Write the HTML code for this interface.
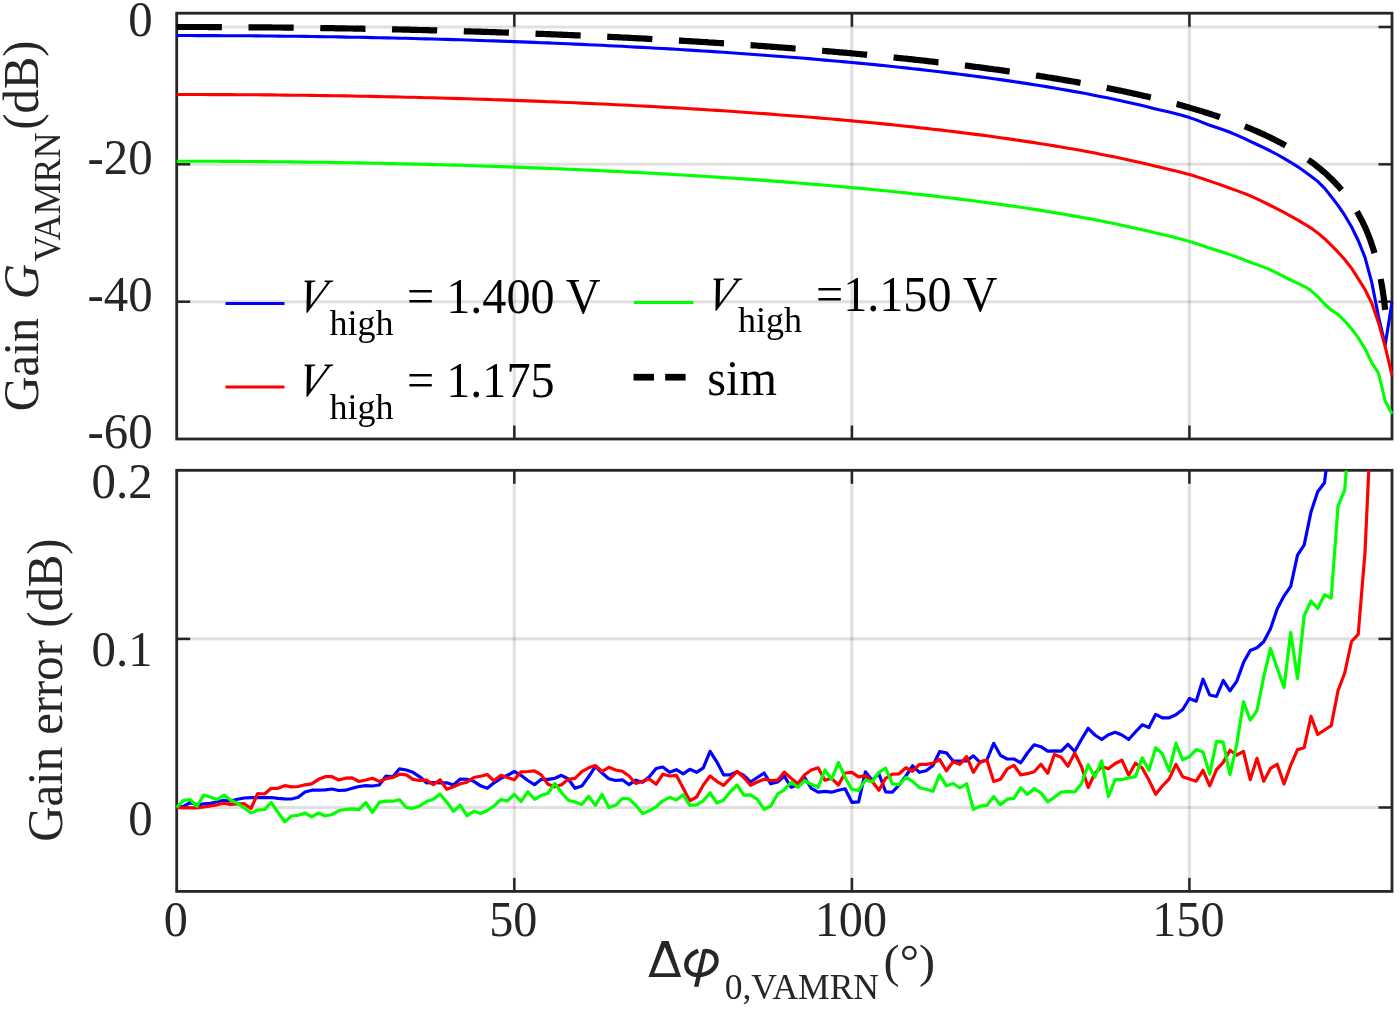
<!DOCTYPE html>
<html lang="en">
<head>
<meta charset="utf-8">
<title>VAMRN gain and gain error versus phase difference</title>
<style>
html,body{margin:0;padding:0;background:#fff;}
body{width:1400px;height:1009px;overflow:hidden;font-family:"Liberation Serif",serif;}
svg{display:block;will-change:transform;}
text{font-family:"Liberation Serif",serif;font-size:48.8px;}
.tl text{fill:#262626;}
.lg text{fill:#000;}
.sub{font-size:36.0px;}
.it{font-style:italic;}
.sans{font-family:"Liberation Sans",sans-serif;font-size:48.8px;}
.si{font-family:"Liberation Sans",sans-serif;font-style:italic;}
.g{stroke:#262626;stroke-opacity:0.145;stroke-width:3.1;}
.bx{fill:none;stroke:#262626;stroke-width:2.8;}
.t{stroke:#262626;stroke-width:2.5;}
.c{stroke-width:3.1;}
.c2{stroke-width:3.2;}
</style>
</head>
<body>
<svg width="1400" height="1009" viewBox="0 0 1400 1009">
<defs><clipPath id="ct"><rect x="175.2" y="13.2" width="1218.3" height="425.8"/></clipPath><clipPath id="cb"><rect x="175.2" y="470.5" width="1218.3" height="420.9"/></clipPath></defs>
<rect width="1400" height="1009" fill="#fff"/>
<g id="top-plot">
<line x1="514.3" y1="13.2" x2="514.3" y2="439" class="g"/>
<line x1="851.9" y1="13.2" x2="851.9" y2="439" class="g"/>
<line x1="1189.4" y1="13.2" x2="1189.4" y2="439" class="g"/>
<line x1="176.7" y1="27" x2="1392" y2="27" class="g"/>
<line x1="176.7" y1="164.3" x2="1392" y2="164.3" class="g"/>
<line x1="176.7" y1="301.7" x2="1392" y2="301.7" class="g"/>
<rect x="176.7" y="13.2" width="1215.3" height="425.8" class="bx"/>
<line x1="514.3" y1="13.2" x2="514.3" y2="26.7" class="t"/>
<line x1="514.3" y1="439" x2="514.3" y2="425.5" class="t"/>
<line x1="851.9" y1="13.2" x2="851.9" y2="26.7" class="t"/>
<line x1="851.9" y1="439" x2="851.9" y2="425.5" class="t"/>
<line x1="1189.4" y1="13.2" x2="1189.4" y2="26.7" class="t"/>
<line x1="1189.4" y1="439" x2="1189.4" y2="425.5" class="t"/>
<line x1="176.7" y1="27" x2="190.2" y2="27" class="t"/>
<line x1="1392" y1="27" x2="1378.5" y2="27" class="t"/>
<line x1="176.7" y1="164.3" x2="190.2" y2="164.3" class="t"/>
<line x1="1392" y1="164.3" x2="1378.5" y2="164.3" class="t"/>
<line x1="176.7" y1="301.7" x2="190.2" y2="301.7" class="t"/>
<line x1="1392" y1="301.7" x2="1378.5" y2="301.7" class="t"/>
<g clip-path="url(#ct)" fill="none" stroke-linejoin="round">
<polyline class="c" stroke="#0000ff" points="176.7,35.5 183.5,35.5 190.2,35.5 197,35.6 203.7,35.6 210.5,35.6 217.2,35.6 224,35.7 230.7,35.7 237.5,35.7 244.2,35.8 251,35.8 257.7,35.9 264.5,36 271.2,36 278,36.1 284.7,36.2 291.5,36.3 298.2,36.3 305,36.4 311.7,36.5 318.5,36.6 325.2,36.7 332,36.8 338.7,36.9 345.5,37.1 352.2,37.2 359,37.3 365.7,37.4 372.5,37.6 379.2,37.7 386,37.9 392.8,38 399.5,38.2 406.3,38.3 413,38.5 419.8,38.7 426.5,38.9 433.3,39 440,39.2 446.8,39.4 453.5,39.6 460.3,39.8 467,40 473.8,40.2 480.5,40.5 487.3,40.7 494,40.9 500.8,41.1 507.5,41.4 514.3,41.6 521,41.9 527.8,42.1 534.5,42.4 541.3,42.7 548,42.9 554.8,43.2 561.5,43.5 568.3,43.8 575,44.1 581.8,44.4 588.6,44.7 595.3,45 602.1,45.3 608.8,45.7 615.6,46 622.3,46.3 629.1,46.7 635.8,47.1 642.6,47.4 649.3,47.8 656.1,48.2 662.8,48.5 669.6,48.9 676.3,49.3 683.1,49.7 689.8,50.1 696.6,50.6 703.3,51 710.1,51.4 716.8,51.9 723.6,52.3 730.3,52.8 737.1,53.2 743.8,53.7 750.6,54.2 757.3,54.7 764.1,55.2 770.8,55.7 777.6,56.2 784.3,56.7 791.1,57.2 797.9,57.8 804.6,58.3 811.4,58.9 818.1,59.5 824.9,60.1 831.6,60.7 838.4,61.3 845.1,61.9 851.9,62.5 858.6,63.1 865.4,63.8 872.1,64.4 878.9,65.1 885.6,65.8 892.4,66.5 899.1,67.2 905.9,67.9 912.6,68.7 919.4,69.4 926.1,70.2 932.9,71 939.6,71.8 946.4,72.6 953.1,73.4 959.9,74.2 966.6,75.1 973.4,76 980.1,76.9 986.9,77.8 993.7,78.7 1000.4,79.6 1007.2,80.6 1013.9,81.6 1020.7,82.6 1027.4,83.6 1034.2,84.7 1040.9,85.8 1047.7,86.9 1054.4,88 1061.2,89.2 1067.9,90.4 1074.7,91.6 1081.4,92.8 1088.2,94.1 1094.9,95.4 1101.7,96.7 1108.4,98.1 1115.2,99.5 1121.9,101 1128.7,102.5 1135.4,104 1142.2,105.6 1148.9,107.2 1155.7,108.9 1162.4,110.5 1169.2,112.1 1175.9,113.8 1182.7,115.6 1189.4,117.6 1196.2,119.9 1203,122.6 1209.7,125.2 1216.5,127.5 1223.2,129.8 1230,132.3 1236.7,135.1 1243.5,138.2 1250.2,141.4 1257,144.5 1263.7,147.7 1270.5,151 1277.2,154.5 1284,158.3 1290.7,162.3 1297.5,166.6 1304.2,171.3 1311,176.2 1317.7,181.4 1324.5,188.1 1331.2,196.5 1338,205.4 1344.7,215.2 1351.5,226.7 1358.2,240.5 1365,257.4 1371.7,282.1 1378.5,316.6 1385.2,345 1392,302"/>
<polyline class="c" stroke="#ff0000" points="176.7,94.5 183.5,94.5 190.2,94.5 197,94.5 203.7,94.5 210.5,94.6 217.2,94.6 224,94.6 230.7,94.6 237.5,94.7 244.2,94.7 251,94.8 257.7,94.8 264.5,94.9 271.2,94.9 278,95 284.7,95.1 291.5,95.2 298.2,95.2 305,95.3 311.7,95.4 318.5,95.5 325.2,95.6 332,95.7 338.7,95.8 345.5,95.9 352.2,96 359,96.2 365.7,96.3 372.5,96.4 379.2,96.6 386,96.7 392.8,96.9 399.5,97 406.3,97.2 413,97.3 419.8,97.5 426.5,97.7 433.3,97.8 440,98 446.8,98.2 453.5,98.4 460.3,98.6 467,98.8 473.8,99 480.5,99.2 487.3,99.4 494,99.7 500.8,99.9 507.5,100.1 514.3,100.4 521,100.6 527.8,100.9 534.5,101.1 541.3,101.4 548,101.7 554.8,101.9 561.5,102.2 568.3,102.5 575,102.8 581.8,103.1 588.6,103.4 595.3,103.7 602.1,104 608.8,104.3 615.6,104.7 622.3,105 629.1,105.3 635.8,105.7 642.6,106 649.3,106.4 656.1,106.8 662.8,107.1 669.6,107.5 676.3,107.9 683.1,108.3 689.8,108.7 696.6,109.1 703.3,109.5 710.1,110 716.8,110.4 723.6,110.8 730.3,111.3 737.1,111.7 743.8,112.2 750.6,112.7 757.3,113.2 764.1,113.6 770.8,114.1 777.6,114.7 784.3,115.2 791.1,115.7 797.9,116.2 804.6,116.8 811.4,117.3 818.1,117.9 824.9,118.5 831.6,119 838.4,119.6 845.1,120.2 851.9,120.9 858.6,121.5 865.4,122.1 872.1,122.8 878.9,123.4 885.6,124.1 892.4,124.8 899.1,125.5 905.9,126.2 912.6,126.9 919.4,127.7 926.1,128.4 932.9,129.2 939.6,129.9 946.4,130.7 953.1,131.5 959.9,132.4 966.6,133.2 973.4,134.1 980.1,134.9 986.9,135.8 993.7,136.8 1000.4,137.7 1007.2,138.6 1013.9,139.6 1020.7,140.6 1027.4,141.6 1034.2,142.6 1040.9,143.7 1047.7,144.8 1054.4,145.9 1061.2,147 1067.9,148.2 1074.7,149.3 1081.4,150.5 1088.2,151.8 1094.9,153.1 1101.7,154.4 1108.4,155.7 1115.2,157.1 1121.9,158.5 1128.7,159.9 1135.4,161.5 1142.2,163 1148.9,164.6 1155.7,166.2 1162.4,167.8 1169.2,169.4 1175.9,171 1182.7,172.8 1189.4,174.6 1196.2,176.6 1203,178.8 1209.7,181.1 1216.5,183.4 1223.2,185.8 1230,188.2 1236.7,190.6 1243.5,193.1 1250.2,195.8 1257,198.9 1263.7,202.1 1270.5,205.5 1277.2,208.9 1284,212.4 1290.7,216.1 1297.5,219.8 1304.2,223.8 1311,228.1 1317.7,232.9 1324.5,238.7 1331.2,245.2 1338,252.1 1344.7,259.5 1351.5,268.2 1358.2,278.6 1365,289.5 1371.7,303 1378.5,322.7 1385.2,346.6 1392,375.5"/>
<polyline class="c" stroke="#00ff00" points="176.7,161.2 183.5,161.2 190.2,161.3 197,161.3 203.7,161.3 210.5,161.3 217.2,161.3 224,161.4 230.7,161.4 237.5,161.4 244.2,161.5 251,161.5 257.7,161.6 264.5,161.6 271.2,161.7 278,161.8 284.7,161.8 291.5,161.9 298.2,162 305,162.1 311.7,162.2 318.5,162.2 325.2,162.3 332,162.5 338.7,162.6 345.5,162.7 352.2,162.8 359,162.9 365.7,163 372.5,163.2 379.2,163.3 386,163.5 392.8,163.6 399.5,163.8 406.3,163.9 413,164.1 419.8,164.2 426.5,164.4 433.3,164.6 440,164.8 446.8,165 453.5,165.1 460.3,165.3 467,165.5 473.8,165.8 480.5,166 487.3,166.2 494,166.4 500.8,166.6 507.5,166.9 514.3,167.1 521,167.4 527.8,167.6 534.5,167.9 541.3,168.1 548,168.4 554.8,168.7 561.5,168.9 568.3,169.2 575,169.5 581.8,169.8 588.6,170.1 595.3,170.4 602.1,170.8 608.8,171.1 615.6,171.4 622.3,171.7 629.1,172.1 635.8,172.4 642.6,172.8 649.3,173.1 656.1,173.5 662.8,173.9 669.6,174.3 676.3,174.7 683.1,175 689.8,175.5 696.6,175.9 703.3,176.3 710.1,176.7 716.8,177.1 723.6,177.6 730.3,178 737.1,178.5 743.8,178.9 750.6,179.4 757.3,179.9 764.1,180.4 770.8,180.9 777.6,181.4 784.3,181.9 791.1,182.4 797.9,183 804.6,183.5 811.4,184.1 818.1,184.6 824.9,185.2 831.6,185.8 838.4,186.4 845.1,187 851.9,187.6 858.6,188.2 865.4,188.9 872.1,189.5 878.9,190.2 885.6,190.8 892.4,191.5 899.1,192.2 905.9,192.9 912.6,193.7 919.4,194.4 926.1,195.1 932.9,195.9 939.6,196.7 946.4,197.5 953.1,198.3 959.9,199.1 966.6,200 973.4,200.8 980.1,201.7 986.9,202.6 993.7,203.5 1000.4,204.4 1007.2,205.4 1013.9,206.3 1020.7,207.3 1027.4,208.3 1034.2,209.4 1040.9,210.4 1047.7,211.5 1054.4,212.6 1061.2,213.7 1067.9,214.9 1074.7,216.1 1081.4,217.3 1088.2,218.5 1094.9,219.8 1101.7,221.1 1108.4,222.4 1115.2,223.8 1121.9,225.2 1128.7,226.7 1135.4,228.2 1142.2,229.7 1148.9,231.3 1155.7,232.9 1162.4,234.5 1169.2,236.1 1175.9,237.8 1182.7,239.5 1189.4,241.4 1196.2,243.5 1203,245.8 1209.7,248.1 1216.5,250.2 1223.2,252.3 1230,254.6 1236.7,257 1243.5,259.6 1250.2,262.2 1257,264.6 1263.7,267.1 1270.5,269.8 1277.2,273.1 1284,276.6 1290.7,280 1297.5,283.1 1304.2,286.3 1311,290.6 1317.7,296.6 1324.5,304 1331.2,310 1338,314.4 1344.7,320.9 1351.5,328.7 1358.2,337.6 1365,348.7 1371.7,362.7 1378.5,373.2 1385.2,401 1392,414"/>
<polyline stroke="#000" stroke-width="6.2" stroke-dasharray="45.2 26.6" points="176.7,27 178.4,27 180.1,27 181.8,27 183.5,27 185.1,27 186.8,27 188.5,27 190.2,27 191.9,27 193.6,27 195.3,27 197,27 198.6,27 200.3,27 202,27 203.7,27 205.4,27 207.1,27 208.8,27.1 210.5,27.1 212.1,27.1 213.8,27.1 215.5,27.1 217.2,27.1 218.9,27.1 220.6,27.1 222.3,27.1 224,27.1 225.6,27.1 227.3,27.1 229,27.1 230.7,27.1 232.4,27.2 234.1,27.2 235.8,27.2 237.5,27.2 239.2,27.2 240.8,27.2 242.5,27.2 244.2,27.2 245.9,27.2 247.6,27.3 249.3,27.3 251,27.3 252.7,27.3 254.3,27.3 256,27.3 257.7,27.3 259.4,27.3 261.1,27.4 262.8,27.4 264.5,27.4 266.2,27.4 267.8,27.4 269.5,27.4 271.2,27.4 272.9,27.5 274.6,27.5 276.3,27.5 278,27.5 279.7,27.5 281.4,27.5 283,27.6 284.7,27.6 286.4,27.6 288.1,27.6 289.8,27.6 291.5,27.7 293.2,27.7 294.9,27.7 296.5,27.7 298.2,27.7 299.9,27.8 301.6,27.8 303.3,27.8 305,27.8 306.7,27.8 308.4,27.9 310,27.9 311.7,27.9 313.4,27.9 315.1,28 316.8,28 318.5,28 320.2,28 321.9,28.1 323.5,28.1 325.2,28.1 326.9,28.1 328.6,28.2 330.3,28.2 332,28.2 333.7,28.2 335.4,28.3 337.1,28.3 338.7,28.3 340.4,28.3 342.1,28.4 343.8,28.4 345.5,28.4 347.2,28.5 348.9,28.5 350.6,28.5 352.2,28.5 353.9,28.6 355.6,28.6 357.3,28.6 359,28.7 360.7,28.7 362.4,28.7 364.1,28.8 365.7,28.8 367.4,28.8 369.1,28.9 370.8,28.9 372.5,28.9 374.2,29 375.9,29 377.6,29 379.2,29.1 380.9,29.1 382.6,29.1 384.3,29.2 386,29.2 387.7,29.2 389.4,29.3 391.1,29.3 392.8,29.4 394.4,29.4 396.1,29.4 397.8,29.5 399.5,29.5 401.2,29.5 402.9,29.6 404.6,29.6 406.3,29.7 407.9,29.7 409.6,29.7 411.3,29.8 413,29.8 414.7,29.9 416.4,29.9 418.1,30 419.8,30 421.4,30 423.1,30.1 424.8,30.1 426.5,30.2 428.2,30.2 429.9,30.3 431.6,30.3 433.3,30.3 435,30.4 436.6,30.4 438.3,30.5 440,30.5 441.7,30.6 443.4,30.6 445.1,30.7 446.8,30.7 448.5,30.8 450.1,30.8 451.8,30.9 453.5,30.9 455.2,31 456.9,31 458.6,31 460.3,31.1 462,31.1 463.6,31.2 465.3,31.3 467,31.3 468.7,31.4 470.4,31.4 472.1,31.5 473.8,31.5 475.5,31.6 477.1,31.6 478.8,31.7 480.5,31.7 482.2,31.8 483.9,31.8 485.6,31.9 487.3,31.9 489,32 490.7,32.1 492.3,32.1 494,32.2 495.7,32.2 497.4,32.3 499.1,32.3 500.8,32.4 502.5,32.5 504.2,32.5 505.8,32.6 507.5,32.6 509.2,32.7 510.9,32.7 512.6,32.8 514.3,32.9 516,32.9 517.7,33 519.3,33.1 521,33.1 522.7,33.2 524.4,33.2 526.1,33.3 527.8,33.4 529.5,33.4 531.2,33.5 532.9,33.6 534.5,33.6 536.2,33.7 537.9,33.8 539.6,33.8 541.3,33.9 543,33.9 544.7,34 546.4,34.1 548,34.2 549.7,34.2 551.4,34.3 553.1,34.4 554.8,34.4 556.5,34.5 558.2,34.6 559.9,34.6 561.5,34.7 563.2,34.8 564.9,34.8 566.6,34.9 568.3,35 570,35.1 571.7,35.1 573.4,35.2 575,35.3 576.7,35.4 578.4,35.4 580.1,35.5 581.8,35.6 583.5,35.7 585.2,35.7 586.9,35.8 588.6,35.9 590.2,36 591.9,36 593.6,36.1 595.3,36.2 597,36.3 598.7,36.3 600.4,36.4 602.1,36.5 603.7,36.6 605.4,36.7 607.1,36.7 608.8,36.8 610.5,36.9 612.2,37 613.9,37.1 615.6,37.2 617.2,37.2 618.9,37.3 620.6,37.4 622.3,37.5 624,37.6 625.7,37.7 627.4,37.7 629.1,37.8 630.7,37.9 632.4,38 634.1,38.1 635.8,38.2 637.5,38.3 639.2,38.4 640.9,38.4 642.6,38.5 644.3,38.6 645.9,38.7 647.6,38.8 649.3,38.9 651,39 652.7,39.1 654.4,39.2 656.1,39.3 657.8,39.4 659.4,39.5 661.1,39.5 662.8,39.6 664.5,39.7 666.2,39.8 667.9,39.9 669.6,40 671.3,40.1 672.9,40.2 674.6,40.3 676.3,40.4 678,40.5 679.7,40.6 681.4,40.7 683.1,40.8 684.8,40.9 686.5,41 688.1,41.1 689.8,41.2 691.5,41.3 693.2,41.4 694.9,41.5 696.6,41.6 698.3,41.7 700,41.8 701.6,41.9 703.3,42 705,42.1 706.7,42.2 708.4,42.4 710.1,42.5 711.8,42.6 713.5,42.7 715.1,42.8 716.8,42.9 718.5,43 720.2,43.1 721.9,43.2 723.6,43.3 725.3,43.4 727,43.6 728.6,43.7 730.3,43.8 732,43.9 733.7,44 735.4,44.1 737.1,44.2 738.8,44.4 740.5,44.5 742.2,44.6 743.8,44.7 745.5,44.8 747.2,44.9 748.9,45.1 750.6,45.2 752.3,45.3 754,45.4 755.7,45.5 757.3,45.7 759,45.8 760.7,45.9 762.4,46 764.1,46.1 765.8,46.3 767.5,46.4 769.2,46.5 770.8,46.6 772.5,46.8 774.2,46.9 775.9,47 777.6,47.2 779.3,47.3 781,47.4 782.7,47.5 784.3,47.7 786,47.8 787.7,47.9 789.4,48.1 791.1,48.2 792.8,48.3 794.5,48.5 796.2,48.6 797.9,48.7 799.5,48.9 801.2,49 802.9,49.1 804.6,49.3 806.3,49.4 808,49.5 809.7,49.7 811.4,49.8 813,50 814.7,50.1 816.4,50.2 818.1,50.4 819.8,50.5 821.5,50.7 823.2,50.8 824.9,51 826.5,51.1 828.2,51.3 829.9,51.4 831.6,51.5 833.3,51.7 835,51.8 836.7,52 838.4,52.1 840.1,52.3 841.7,52.4 843.4,52.6 845.1,52.7 846.8,52.9 848.5,53 850.2,53.2 851.9,53.4 853.6,53.5 855.2,53.7 856.9,53.8 858.6,54 860.3,54.1 862,54.3 863.7,54.5 865.4,54.6 867.1,54.8 868.7,54.9 870.4,55.1 872.1,55.3 873.8,55.4 875.5,55.6 877.2,55.8 878.9,55.9 880.6,56.1 882.2,56.3 883.9,56.4 885.6,56.6 887.3,56.8 889,56.9 890.7,57.1 892.4,57.3 894.1,57.5 895.8,57.6 897.4,57.8 899.1,58 900.8,58.2 902.5,58.3 904.2,58.5 905.9,58.7 907.6,58.9 909.3,59.1 910.9,59.2 912.6,59.4 914.3,59.6 916,59.8 917.7,60 919.4,60.2 921.1,60.3 922.8,60.5 924.4,60.7 926.1,60.9 927.8,61.1 929.5,61.3 931.2,61.5 932.9,61.7 934.6,61.9 936.3,62.1 938,62.3 939.6,62.4 941.3,62.6 943,62.8 944.7,63 946.4,63.2 948.1,63.4 949.8,63.6 951.5,63.8 953.1,64.1 954.8,64.3 956.5,64.5 958.2,64.7 959.9,64.9 961.6,65.1 963.3,65.3 965,65.5 966.6,65.7 968.3,65.9 970,66.1 971.7,66.4 973.4,66.6 975.1,66.8 976.8,67 978.5,67.2 980.1,67.4 981.8,67.7 983.5,67.9 985.2,68.1 986.9,68.3 988.6,68.6 990.3,68.8 992,69 993.7,69.3 995.3,69.5 997,69.7 998.7,69.9 1000.4,70.2 1002.1,70.4 1003.8,70.7 1005.5,70.9 1007.2,71.1 1008.8,71.4 1010.5,71.6 1012.2,71.9 1013.9,72.1 1015.6,72.3 1017.3,72.6 1019,72.8 1020.7,73.1 1022.3,73.3 1024,73.6 1025.7,73.8 1027.4,74.1 1029.1,74.4 1030.8,74.6 1032.5,74.9 1034.2,75.1 1035.8,75.4 1037.5,75.7 1039.2,75.9 1040.9,76.2 1042.6,76.5 1044.3,76.7 1046,77 1047.7,77.3 1049.4,77.5 1051,77.8 1052.7,78.1 1054.4,78.4 1056.1,78.6 1057.8,78.9 1059.5,79.2 1061.2,79.5 1062.9,79.8 1064.5,80.1 1066.2,80.4 1067.9,80.7 1069.6,80.9 1071.3,81.2 1073,81.5 1074.7,81.8 1076.4,82.1 1078,82.4 1079.7,82.7 1081.4,83 1083.1,83.4 1084.8,83.7 1086.5,84 1088.2,84.3 1089.9,84.6 1091.6,84.9 1093.2,85.2 1094.9,85.6 1096.6,85.9 1098.3,86.2 1100,86.5 1101.7,86.9 1103.4,87.2 1105.1,87.5 1106.7,87.9 1108.4,88.2 1110.1,88.5 1111.8,88.9 1113.5,89.2 1115.2,89.6 1116.9,89.9 1118.6,90.3 1120.2,90.6 1121.9,91 1123.6,91.3 1125.3,91.7 1127,92.1 1128.7,92.4 1130.4,92.8 1132.1,93.2 1133.7,93.6 1135.4,93.9 1137.1,94.3 1138.8,94.7 1140.5,95.1 1142.2,95.5 1143.9,95.9 1145.6,96.2 1147.3,96.6 1148.9,97 1150.6,97.4 1152.3,97.8 1154,98.3 1155.7,98.7 1157.4,99.1 1159.1,99.5 1160.8,99.9 1162.4,100.3 1164.1,100.8 1165.8,101.2 1167.5,101.6 1169.2,102.1 1170.9,102.5 1172.6,103 1174.3,103.4 1175.9,103.9 1177.6,104.3 1179.3,104.8 1181,105.2 1182.7,105.7 1184.4,106.2 1186.1,106.7 1187.8,107.1 1189.4,107.6 1191.1,108.1 1192.8,108.6 1194.5,109.1 1196.2,109.6 1197.9,110.1 1199.6,110.6 1201.3,111.1 1203,111.6 1204.6,112.2 1206.3,112.7 1208,113.2 1209.7,113.8 1211.4,114.3 1213.1,114.9 1214.8,115.4 1216.5,116 1218.1,116.5 1219.8,117.1 1221.5,117.7 1223.2,118.3 1224.9,118.9 1226.6,119.5 1228.3,120.1 1230,120.7 1231.6,121.3 1233.3,121.9 1235,122.5 1236.7,123.2 1238.4,123.8 1240.1,124.5 1241.8,125.1 1243.5,125.8 1245.2,126.5 1246.8,127.2 1248.5,127.8 1250.2,128.5 1251.9,129.2 1253.6,130 1255.3,130.7 1257,131.4 1258.7,132.2 1260.3,132.9 1262,133.7 1263.7,134.4 1265.4,135.2 1267.1,136 1268.8,136.8 1270.5,137.6 1272.2,138.5 1273.8,139.3 1275.5,140.2 1277.2,141 1278.9,141.9 1280.6,142.8 1282.3,143.7 1284,144.6 1285.7,145.6 1287.3,146.5 1289,147.5 1290.7,148.4 1292.4,149.4 1294.1,150.5 1295.8,151.5 1297.5,152.5 1299.2,153.6 1300.9,154.7 1302.5,155.8 1304.2,156.9 1305.9,158.1 1307.6,159.3 1309.3,160.5 1311,161.7 1312.7,162.9 1314.4,164.2 1316,165.5 1317.7,166.9 1319.4,168.2 1321.1,169.6 1322.8,171.1 1324.5,172.5 1326.2,174 1327.9,175.6 1329.5,177.2 1331.2,178.8 1332.9,180.5 1334.6,182.2 1336.3,184 1338,185.8 1339.7,187.7 1341.4,189.7 1343.1,191.7 1344.7,193.8 1346.4,195.9 1348.1,198.2 1349.8,200.5 1351.5,203 1353.2,205.5 1354.9,208.1 1356.6,210.9 1358.2,213.8 1359.9,216.9 1361.6,220.1 1363.3,223.5 1365,227.1 1366.7,231 1368.4,235.1 1370.1,239.5 1371.7,244.3 1373.4,249.5 1375.1,255.1 1376.8,261.4 1378.5,268.5 1380.2,276.4 1381.9,285.6 1383.6,296.5 1385.2,309.8"/>
</g>
</g>
<g id="bottom-plot">
<line x1="514.3" y1="470.3" x2="514.3" y2="891.4" class="g"/>
<line x1="851.9" y1="470.3" x2="851.9" y2="891.4" class="g"/>
<line x1="1189.4" y1="470.3" x2="1189.4" y2="891.4" class="g"/>
<line x1="176.7" y1="807.5" x2="1392" y2="807.5" class="g"/>
<line x1="176.7" y1="638.9" x2="1392" y2="638.9" class="g"/>
<rect x="176.7" y="470.3" width="1215.3" height="421.1" class="bx"/>
<line x1="514.3" y1="470.3" x2="514.3" y2="483.8" class="t"/>
<line x1="514.3" y1="891.4" x2="514.3" y2="877.9" class="t"/>
<line x1="851.9" y1="470.3" x2="851.9" y2="483.8" class="t"/>
<line x1="851.9" y1="891.4" x2="851.9" y2="877.9" class="t"/>
<line x1="1189.4" y1="470.3" x2="1189.4" y2="483.8" class="t"/>
<line x1="1189.4" y1="891.4" x2="1189.4" y2="877.9" class="t"/>
<line x1="176.7" y1="807.5" x2="190.2" y2="807.5" class="t"/>
<line x1="1392" y1="807.5" x2="1378.5" y2="807.5" class="t"/>
<line x1="176.7" y1="638.9" x2="190.2" y2="638.9" class="t"/>
<line x1="1392" y1="638.9" x2="1378.5" y2="638.9" class="t"/>
<g clip-path="url(#cb)" fill="none" stroke-linejoin="round">
<polyline class="c2" stroke="#0000ff" points="176.7,807.5 183.5,806.3 190.2,802.5 197,804.8 203.7,803.8 210.5,803.3 217.2,801.8 224,800.3 230.7,801 237.5,799.3 244.2,798 251,797.7 257.7,797.7 264.5,797.7 271.2,797.5 278,798.3 284.7,798.8 291.5,799 298.2,797.3 305,792 311.7,790.2 318.5,790.2 325.2,789.8 332,789 338.7,790.5 345.5,790.2 352.2,788.3 359,786.5 365.7,785.7 372.5,786 379.2,785 386,776 392.8,776.8 399.5,768.8 406.3,770 413,772.3 419.8,776.8 426.5,782.8 433.3,782.5 440,782.8 446.8,782.8 453.5,785 460.3,779 467,779.3 473.8,781.3 480.5,785.8 487.3,788.3 494,782.8 500.8,778.3 507.5,775.3 514.3,771.5 521,775.3 527.8,780.5 534.5,784.7 541.3,779.3 548,779.3 554.8,778.3 561.5,775.3 568.3,779 575,788.3 581.8,786.1 588.6,776.8 595.3,766.7 602.1,773 608.8,778.7 615.6,780.5 622.3,779.8 629.1,784.7 635.8,780.2 642.6,782.3 649.3,776.8 656.1,768.5 662.8,767 669.6,772.3 676.3,769.7 683.1,773.8 689.8,769.3 696.6,772.3 703.3,767.8 710.1,751.3 716.8,761.8 723.6,774.8 730.3,774.8 737.1,771.8 743.8,775.3 750.6,782 757.3,777.5 764.1,773 770.8,783.8 777.6,782 784.3,776 791.1,787.3 797.9,785 804.6,777.5 811.4,788.3 818.1,792.2 824.9,791.3 831.6,792.2 838.4,790.3 845.1,788.8 851.9,802.3 858.6,801.8 865.4,771.8 872.1,780.2 878.9,773.8 885.6,791.8 892.4,792.2 899.1,785 905.9,776 912.6,765.8 919.4,772.3 926.1,770.8 932.9,765.5 939.6,751.7 946.4,752.8 953.1,761 959.9,761 966.6,761 973.4,755.8 980.1,762.3 986.9,760 993.7,743.3 1000.4,755.3 1007.2,759 1013.9,759 1020.7,762.8 1027.4,753 1034.2,744.8 1040.9,746.7 1047.7,751.2 1054.4,750.8 1061.2,751.2 1067.9,744.3 1074.7,751.5 1081.4,739.5 1088.2,728.3 1094.9,735 1101.7,739.5 1108.4,734.7 1115.2,732.3 1121.9,735 1128.7,739.5 1135.4,732 1142.2,724.8 1148.9,727.5 1155.7,714.3 1162.4,717.8 1169.2,717.8 1175.9,714.8 1182.7,709.5 1189.4,698.5 1196.2,701.2 1203,679.2 1209.7,695 1216.5,696.5 1223.2,680.5 1230,690.8 1236.7,681.4 1243.5,662.6 1250.2,650.4 1257,647.8 1263.7,641.8 1270.5,628.7 1277.2,608.9 1284,596.1 1290.7,586.3 1297.5,555.2 1304.2,544.9 1311,511.9 1317.7,491.8 1324.5,482.7 1331.2,427.5 1338,367.5"/>
<polyline class="c2" stroke="#ff0000" points="176.7,807.5 183.5,807.8 190.2,807.8 197,807.8 203.7,807 210.5,805.8 217.2,804.8 224,803.3 230.7,804.3 237.5,804 244.2,803.7 251,808.5 257.7,793.5 264.5,794 271.2,788.3 278,788.3 284.7,785.7 291.5,786.8 298.2,786.5 305,784.8 311.7,783.8 318.5,779.3 325.2,776.7 332,776.7 338.7,780 345.5,778.2 352.2,777.8 359,781.5 365.7,780 372.5,778.3 379.2,781.4 386,778.7 392.8,777.5 399.5,774.2 406.3,774.8 413,779.3 419.8,780.5 426.5,780.2 433.3,784.7 440,779.8 446.8,789.2 453.5,786.8 460.3,783.8 467,782.3 473.8,777.5 480.5,776.3 487.3,774.5 494,780.8 500.8,775.3 507.5,777.5 514.3,779.8 521,771.8 527.8,771.5 534.5,770.8 541.3,774.8 548,784.3 554.8,786.8 561.5,784.7 568.3,779.3 575,778.3 581.8,771.7 588.6,767.8 595.3,765.5 602.1,771.5 608.8,767.3 615.6,770 622.3,771.2 629.1,776 635.8,783.5 642.6,781.3 649.3,779 656.1,784.3 662.8,774.2 669.6,776 676.3,775.3 683.1,788 689.8,800.8 696.6,797 703.3,785 710.1,776 716.8,781.3 723.6,785.3 730.3,778.3 737.1,771.5 743.8,777.5 750.6,785.3 757.3,782 764.1,779.3 770.8,780.5 777.6,780.2 784.3,772.1 791.1,778.3 797.9,783.8 804.6,774.8 811.4,770 818.1,767.8 824.9,780.2 831.6,778.3 838.4,785 845.1,773 851.9,772.3 858.6,776.8 865.4,775.7 872.1,781.3 878.9,790.3 885.6,778.3 892.4,774.2 899.1,773.8 905.9,767.8 912.6,771.2 919.4,764.3 926.1,764.3 932.9,763.3 939.6,759.5 946.4,770.8 953.1,761.8 959.9,764.3 966.6,756.5 973.4,772.3 980.1,761.9 986.9,760 993.7,781.5 1000.4,779.3 1007.2,768.8 1013.9,765.3 1020.7,774.8 1027.4,773.7 1034.2,771.8 1040.9,764.3 1047.7,773.3 1054.4,754.5 1061.2,757.2 1067.9,766.2 1074.7,753 1081.4,766.5 1088.2,787.5 1094.9,773.3 1101.7,766.5 1108.4,768.8 1115.2,763.5 1121.9,760.2 1128.7,775.2 1135.4,763.2 1142.2,768 1148.9,780 1155.7,794.3 1162.4,786 1169.2,778.8 1175.9,764.3 1182.7,776.7 1189.4,778.9 1196.2,781.2 1203,770.3 1209.7,785.9 1216.5,769.6 1223.2,762.4 1230,750.2 1236.7,755.2 1243.5,751.5 1250.2,779.7 1257,758.3 1263.7,781.2 1270.5,768.4 1277.2,764.3 1284,784.1 1290.7,765.2 1297.5,749.6 1304.2,747.7 1311,716.3 1317.7,734.5 1324.5,730 1331.2,725.7 1338,690.8 1344.7,673 1351.5,641.5 1358.2,634.3 1365,552.4 1371.7,406.5"/>
<polyline class="c2" stroke="#00ff00" points="176.7,807.5 183.5,800.3 190.2,799.6 197,806.3 203.7,795.1 210.5,797.3 217.2,799.5 224,795.1 230.7,800.3 237.5,803.3 244.2,807.8 251,813 257.7,810 264.5,809.7 271.2,802.5 278,812.3 284.7,821.7 291.5,816 298.2,815.3 305,813 311.7,816.8 318.5,813 325.2,816 332,814.5 338.7,810.8 345.5,809.3 352.2,808.8 359,809.7 365.7,802.5 372.5,812.5 379.2,802.4 386,801.2 392.8,801.2 399.5,799.7 406.3,807.5 413,808.3 419.8,806 426.5,801.5 433.3,799.3 440,794 446.8,802.3 453.5,811.3 460.3,805.3 467,815.7 473.8,811.3 480.5,813.5 487.3,810.5 494,806 500.8,799.7 507.5,800.8 514.3,794.3 521,801.5 527.8,791.8 534.5,799.3 541.3,795.5 548,793.3 554.8,783.5 561.5,792.5 568.3,800.3 575,801.9 581.8,804.5 588.6,796.3 595.3,805.3 602.1,794.3 608.8,807.5 615.6,805.3 622.3,798.5 629.1,798.8 635.8,805.3 642.6,813.5 649.3,810.8 656.1,806.8 662.8,800.8 669.6,797.3 676.3,800 683.1,794.8 689.8,805.3 696.6,804.8 703.3,800.8 710.1,792.8 716.8,803 723.6,800 730.3,791.8 737.1,785 743.8,795.2 750.6,794.8 757.3,799.3 764.1,809.3 770.8,806 777.6,794 784.3,789.8 791.1,782.3 797.9,787.3 804.6,780.5 811.4,784.3 818.1,787.3 824.9,770 831.6,779.3 838.4,762.5 845.1,777.5 851.9,789.5 858.6,790.3 865.4,780.2 872.1,781.7 878.9,772.3 885.6,768.2 892.4,783.8 899.1,784.7 905.9,777.5 912.6,781.3 919.4,787.7 926.1,789.2 932.9,791.3 939.6,774.8 946.4,785.8 953.1,783.5 959.9,788 966.6,783.8 973.4,809.3 980.1,806.1 986.9,805.4 993.7,796.5 1000.4,804.8 1007.2,799.2 1013.9,798.3 1020.7,787.8 1027.4,794.3 1034.2,788.7 1040.9,792.8 1047.7,801.8 1054.4,797.3 1061.2,792 1067.9,791.3 1074.7,792 1081.4,783.8 1088.2,764.7 1094.9,777 1101.7,760.8 1108.4,796.5 1115.2,779.7 1121.9,779.7 1128.7,777.8 1135.4,776.7 1142.2,757.8 1148.9,770.3 1155.7,747.8 1162.4,753.8 1169.2,771 1175.9,743.3 1182.7,759.8 1189.4,756.7 1196.2,749.6 1203,752 1209.7,774.1 1216.5,741.3 1223.2,742.2 1230,774.6 1236.7,744.5 1243.5,701.8 1250.2,720 1257,710.6 1263.7,676.7 1270.5,648.5 1277.2,668.2 1284,687.5 1290.7,632.4 1297.5,678.6 1304.2,615.5 1311,601 1317.7,608.5 1324.5,594.8 1331.2,598 1338,506.2 1344.7,490.2 1351.5,400.5"/>
</g>
</g>
<g class="tl">
<text transform="translate(152.6 36.4) scale(1.0 1.03)" text-anchor="end">0</text>
<text transform="translate(152.6 173.73) scale(1.0 1.03)" text-anchor="end">-20</text>
<text transform="translate(152.6 311.07) scale(1.0 1.03)" text-anchor="end">-40</text>
<text transform="translate(152.6 448.4) scale(1.0 1.03)" text-anchor="end">-60</text>
<text transform="translate(152.6 497.6) scale(1.0 1.03)" text-anchor="end">0.2</text>
<text transform="translate(152.6 666.2) scale(1.0 1.03)" text-anchor="end">0.1</text>
<text transform="translate(152.6 834.8) scale(1.0 1.03)" text-anchor="end">0</text>
<text transform="translate(175.7 936.2) scale(0.987 1.03)" text-anchor="middle">0</text>
<text transform="translate(513.28 936.2) scale(0.987 1.03)" text-anchor="middle">50</text>
<text transform="translate(850.87 936.2) scale(0.987 1.03)" text-anchor="middle">100</text>
<text transform="translate(1188.45 936.2) scale(0.987 1.03)" text-anchor="middle">150</text>
</g>
<g class="tl">
<g transform="translate(640 930) scale(0.0714286)" fill="none" stroke="#262626"><path d="M305,155 L400,155 L575,657 L118,657 Z M348,238 L198,606 L497,606 Z" fill="#262626" fill-rule="evenodd" stroke="none"/><path d="M815,290 C705,335 646,410 648,492 C650,585 722,634 812,632 C950,628 1070,545 1072,432 C1074,335 1002,290 908,294" stroke-width="60" stroke-linecap="butt"/><path d="M878,270 L936,270 L819,796 L756,796 Z" fill="#262626" stroke="none"/></g>
<text transform="translate(724.7 999) scale(0.987 1.02)" class="sub">0,VAMRN</text>
<text transform="translate(883.6 976.6) scale(0.987 0.97)">(&#176;)</text>
</g>
<g class="tl">
<text transform="translate(38.3 411.3) rotate(-90) scale(0.985 1.03)">Gain</text>
<text transform="translate(38.3 299.3) rotate(-90) scale(1.0 1.03)" class="it">G</text>
<text transform="translate(60.2 261.8) rotate(-90) scale(1.0 1.03)" class="sub">VAMRN</text>
<text transform="translate(38.3 129.8) rotate(-90) scale(1.0 1.03)">(dB)</text>
<text transform="translate(62 841.8) rotate(-90) scale(1.0 1.03)">Gain error (dB)</text>
</g>
<g class="lg">
<line x1="225.5" y1="303.4" x2="284.5" y2="303.4" stroke="#0000ff" stroke-width="3"/>
<line x1="225.5" y1="387.1" x2="284.5" y2="387.1" stroke="#ff0000" stroke-width="3"/>
<line x1="634" y1="302.6" x2="693.5" y2="302.6" stroke="#00ff00" stroke-width="3"/>
<line x1="633.5" y1="377.2" x2="654" y2="377.2" stroke="#000" stroke-width="6.7"/>
<line x1="665.2" y1="377.2" x2="685.6" y2="377.2" stroke="#000" stroke-width="6.7"/>
<text transform="translate(295.3 312.4) scale(0.9 0.985) skewX(-14)" class="it">V</text>
<text transform="translate(329.5 334.5) scale(1.0 0.995)" class="sub">high</text>
<text transform="translate(407 313) scale(0.987 1.03)">= 1.400 V</text>
<text transform="translate(295.3 396.4) scale(0.9 0.985) skewX(-14)" class="it">V</text>
<text transform="translate(329.5 419) scale(1.0 0.995)" class="sub">high</text>
<text transform="translate(407 397) scale(0.987 1.03)">= 1.175</text>
<text transform="translate(704.3 309.9) scale(0.9 0.985) skewX(-14)" class="it">V</text>
<text transform="translate(738 332.3) scale(1.0 0.995)" class="sub">high</text>
<text transform="translate(816 310.5) scale(0.987 1.03)">=1.150 V</text>
<text transform="translate(707.3 395.3) scale(0.987 1.03)">sim</text>
</g>
</svg>
</body>
</html>
